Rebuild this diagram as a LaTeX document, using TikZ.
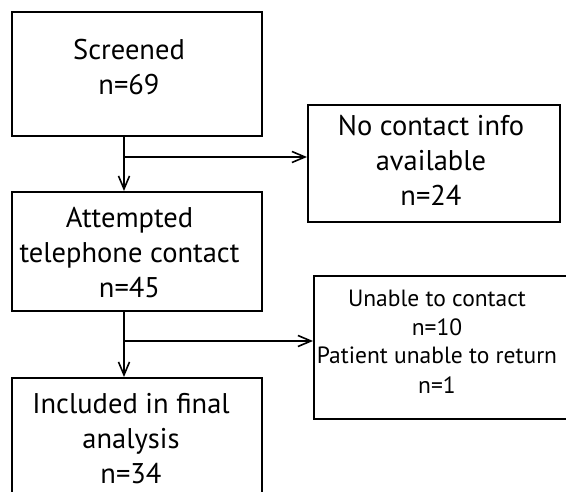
\documentclass[tikz,border=0pt]{standalone}
\usepackage{fontspec}
\setmainfont{PT Sans}
\usetikzlibrary{arrows.meta}
\begin{document}
\begin{tikzpicture}[x=1pt,y=-1pt,
  boxstyle/.style={draw=black,line width=1.8pt,inner sep=0pt},
  bigtext/.style={align=center,inner sep=0pt,anchor=base,font=\fontsize{28.5}{35}\selectfont},
  smalltext/.style={align=center,inner sep=0pt,anchor=base,font=\fontsize{23.5}{29}\selectfont},
  conn/.style={line width=1.6pt,-{Straight Barb[length=13pt,width=11pt,line width=1.6pt]}}]
\useasboundingbox (0,0) rectangle (566,492);
\begin{scope}
\clip (0,0) rectangle (566,492);
% boxes
\node[boxstyle,minimum width=250pt,minimum height=124pt,anchor=north west] (b1) at (11,11) {};
\node[boxstyle,minimum width=252pt,minimum height=117pt,anchor=north west] (nc) at (307,104) {};
\node[boxstyle,minimum width=250pt,minimum height=119pt,anchor=north west] (b2) at (11,191) {};
\node[boxstyle,minimum width=260pt,minimum height=143pt,anchor=north west] (un) at (313,275) {};
\node[boxstyle,minimum width=250pt,minimum height=130pt,anchor=north west] (b3) at (11,377) {};
\end{scope}
% texts (anchored at the baseline of the last line)
\node[bigtext] (t1) at (129,95) {Screened\\n=69};
\node[bigtext] (tnc) at (431,206) {No contact info\\available\\n=24};
\node[bigtext] (t2) at (129.5,298) {Attempted\\telephone contact\\n=45};
\node[smalltext] (tun) at (437,393) {Unable to contact\\n=10\\Patient unable to return\\n=1};
\node[bigtext] (t3) at (131,483) {Included in final\\analysis\\n=34};
% connectors
\coordinate (j1) at (124,157);
\coordinate (j2) at (124,341);
\draw[line width=1.6pt] (b1.south -| j1) -- (j1);
\draw[conn] (j1) -- (j1 |- b2.north);
\draw[conn] (j1) -- (j1 -| nc.west);
\draw[line width=1.6pt] (b2.south -| j2) -- (j2);
\draw[conn] (j2) -- (j2 |- b3.north);
\draw[conn] (j2) -- (j2 -| un.west);
\end{tikzpicture}
\end{document}
